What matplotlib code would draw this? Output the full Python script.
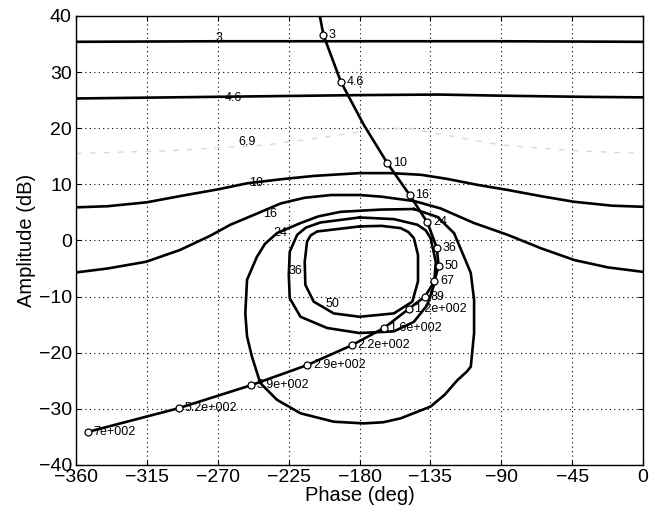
import matplotlib
matplotlib.use('Agg')
import matplotlib.pyplot as plt

plt.rcParams['font.family'] = ['Liberation Sans', 'DejaVu Sans']

# open loop curve (phase in deg, amplitude in dB)
loop_phase = [-205.2, -202.9, -191.9, -177.3, -162.4, -148.2, -136.9, -131.0, -129.8,
              -132.5, -138.5, -148.8, -164.5, -185.1, -213.1, -248.9, -294.9, -352.2]
loop_amp = [40.0, 36.6, 28.3, 20.6, 13.8, 8.1, 3.2, -1.3, -4.5,
            -7.3, -10.0, -12.2, -15.6, -18.7, -22.2, -25.8, -29.9, -34.1]

# frequency markers on the open loop
freq_labels = ['3', '4.6', '10', '16', '24', '36', '50', '67', '89', '1.2e+002',
               '1.6e+002', '2.2e+002', '2.9e+002', '3.9e+002', '5.2e+002', '7e+002']
freq_phase = [-202.9, -191.9, -162.4, -148.2, -136.9, -131.0, -129.8, -132.5, -138.5,
              -148.8, -164.5, -185.1, -213.1, -248.9, -294.9, -352.2]
freq_amp = [36.6, 28.3, 13.8, 8.1, 3.2, -1.3, -4.5, -7.3, -10.0,
            -12.2, -15.6, -18.7, -22.2, -25.8, -29.9, -34.1]

# bounds
b3_phase = [-360, -270, -180, -90, 0]
b3_amp = [35.4, 35.5, 35.5, 35.5, 35.4]

b46_phase = [-360, -270, -180, -130, -90, -40, 0]
b46_amp = [25.3, 25.6, 25.9, 26.0, 25.8, 25.6, 25.5]

b69_phase = [-360, -300, -240, -200, -170, -150, -120, -90, -45, 0]
b69_amp = [15.5, 16.0, 17.0, 18.5, 19.8, 20.0, 18.5, 17.0, 16.0, 15.5]

b10_phase = [-360, -340, -315, -294, -270, -251, -230, -209, -180, -160,
             -141, -125, -105, -86, -65, -44, -20, 0]
b10_amp = [5.9, 6.1, 6.8, 7.9, 9.1, 10.2, 10.9, 11.5, 12.0, 12.0,
           11.7, 11.0, 9.9, 9.0, 7.9, 6.9, 6.2, 6.0]

b16_phase = [-360, -340, -315.5, -294, -275, -262, -245, -230, -215, -198, -180,
             -166, -145, -128.5, -107.3, -86, -64.8, -43.6, -22.4, 0]
b16_amp = [-5.7, -5.0, -3.8, -1.7, 0.8, 2.8, 4.8, 6.6, 7.6, 8.1, 8.1,
           7.8, 7.0, 5.7, 3.1, 1.0, -1.4, -3.5, -4.8, -5.6]

b24_phase = [-145.5, -166.6, -192.1, -206.0, -217.5, -232.4, -240.0, -245.1, -251.4,
             -252.5, -251.4, -248.3, -243.0, -232.4, -217.5, -196.4, -177.3, -165.0,
             -153.9, -134.9, -126.0, -117.9, -112.0, -109.4, -107.3, -107.3, -109.4,
             -113.7, -120.0, -130.6, -145.5]
b24_amp = [5.6, 5.5, 5.1, 4.3, 3.1, 1.3, -0.6, -2.9, -7.0,
           -13.0, -17.1, -20.7, -25.4, -28.4, -30.8, -32.3, -32.6, -32.4,
           -31.7, -29.6, -27.5, -24.9, -23.4, -22.5, -16.5, -10.6, -5.8,
           -2.9, 1.3, 4.2, 5.6]

b36_phase = [-180.0, -204.8, -214.0, -219.6, -224.3, -224.9, -224.3, -217.5, -200.6,
             -180.0, -158.2, -145.5, -137.0, -132.7, -131.6, -134.9, -138.0, -143.3,
             -158.2, -180.0]
b36_amp = [4.1, 3.2, 2.3, 1.0, -2.0, -6.1, -10.3, -13.6, -15.6,
           -16.5, -16.2, -14.5, -11.5, -7.9, -3.8, 0.4, 1.8, 2.8,
           3.8, 4.1]

b50_phase = [-180.0, -206.9, -211.0, -213.3, -214.8, -214.4, -209.1, -196.4, -180.0,
             -158.2, -146.5, -142.9, -142.9, -145.5, -149.0, -153.9, -166.0, -180.0]
b50_amp = [2.5, 1.6, 0.9, -0.2, -3.8, -7.9, -10.9, -13.0, -13.6,
           -13.0, -10.9, -7.3, -2.6, 0.4, 1.5, 2.2, 2.6, 2.5]

bound_labels = ['3', '4.6', '6.9', '10', '16', '24', '36', '50']
bound_lab_phase = [-269.0, -260.0, -251.4, -245.5, -236.6, -230.3, -220.7, -197.2]
bound_lab_amp = [36.1, 25.4, 17.6, 10.2, 4.7, 1.3, -5.4, -11.3]

fig = plt.figure(figsize=(6.49, 5.16), dpi=100)
ax = fig.add_axes([0.117, 0.099, 0.874, 0.870])

# bounds
for ph, am in [(b3_phase, b3_amp), (b46_phase, b46_amp), (b10_phase, b10_amp),
               (b16_phase, b16_amp), (b24_phase, b24_amp), (b36_phase, b36_amp),
               (b50_phase, b50_amp)]:
    ax.plot(ph, am, color='black', linewidth=1.9, solid_joinstyle='round')
ax.plot(b69_phase, b69_amp, color='#d8d8d8', linewidth=1.0, linestyle=(0, (4, 6)))

for lab, ph, am in zip(bound_labels, bound_lab_phase, bound_lab_amp):
    ax.text(ph, am, lab, fontsize=9, ha='center', va='center')

# open loop
ax.plot(loop_phase, loop_amp, color='black', linewidth=1.9, solid_joinstyle='round')
ax.plot(freq_phase, freq_amp, linestyle='none', marker='o', markersize=5,
        markerfacecolor='white', markeredgecolor='black', markeredgewidth=0.9)
for lab, ph, am in zip(freq_labels, freq_phase, freq_amp):
    ax.annotate(lab, (ph, am), xytext=(4, 0), textcoords='offset points',
                fontsize=9, ha='left', va='center')

ax.set_xlim(-360, 0)
ax.set_ylim(-40, 40)
ax.set_xticks(range(-360, 1, 45))
ax.set_yticks(range(-40, 41, 10))
ax.grid(True, color='black', linestyle=(0, (1, 3)), linewidth=0.8)
ax.tick_params(direction='in', top=True, right=True, labelsize=14, pad=3, width=0.8)
for s in ax.spines.values():
    s.set_linewidth(1.0)
ax.set_xlabel('Phase (deg)', fontsize=14.5, labelpad=0)
ax.set_ylabel('Amplitude (dB)', fontsize=14.5, labelpad=2)

plt.savefig('out.png', dpi=100)
